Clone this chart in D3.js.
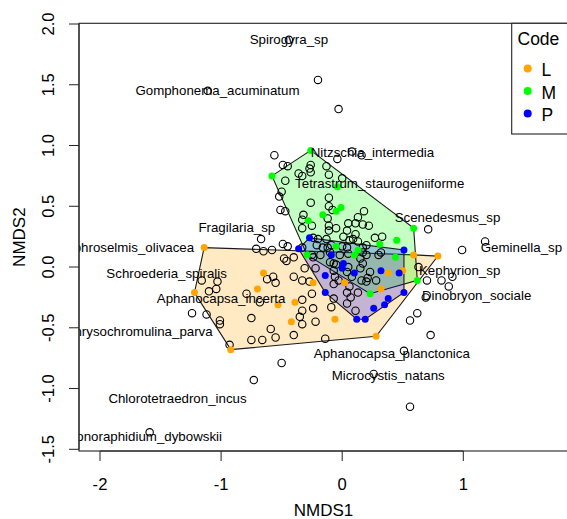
<!DOCTYPE html>
<html><head><meta charset="utf-8">
<script src="https://cdn.jsdelivr.net/npm/d3@7"></script>
<style>
body{margin:0;background:#fff}
svg{display:block}
text{font-family:"Liberation Sans",Arial,Helvetica,sans-serif;fill:#000}
</style>
</head><body>
<svg id="chart" width="567" height="519"></svg>
<script>
// ---- data ----
const siteNMDS1 = [-0.44,-1.11,-0.20,-0.03,-0.56,0.08,0.16,-0.04,-0.49,-0.45,-0.26,-0.27,-0.13,-0.36,-0.33,-0.26,-0.11,0.00,-0.47,-0.50,
 -0.52,-0.26,-0.11,-0.11,-0.08,-0.51,-0.47,0.18,0.13,-0.32,-0.33,-0.12,-0.11,-0.33,-0.25,-0.05,0.05,0.11,0.17,0.22,
 0.04,-0.11,0.71,-0.67,-0.71,-0.65,-0.58,-0.49,-0.45,-0.20,-0.13,-0.09,0.06,0.27,0.33,0.09,0.13,0.00,0.17,-0.24,
 0.01,0.11,-0.21,-0.16,0.20,0.99,1.18,-0.33,-0.25,-0.18,-0.12,-0.02,0.04,0.20,-0.10,0.05,0.17,0.30,0.32,-0.10,
 -0.07,-0.05,0.15,0.17,-0.22,-0.07,0.05,0.04,0.15,0.23,-0.48,-0.46,-0.40,-0.24,-0.31,-0.03,0.08,0.16,0.21,0.28,
 0.20,-0.06,-0.07,0.06,0.13,0.04,-0.40,-0.33,-0.27,-0.25,-0.33,-0.57,-0.62,-0.55,-0.09,-0.07,0.07,0.04,-0.24,0.11,
 -0.33,-0.35,-0.33,-0.22,0.70,0.82,0.88,0.91,0.69,0.62,0.56,0.73,0.56,0.51,0.26,-0.14,-0.40,-0.59,-0.55,-0.66,
 -0.75,-0.75,-0.68,-0.79,-1.16,-1.03,-1.10,-1.04,-1.24,-1.12,-1.01,-1.01,-0.93,-0.50,-0.73,0.63,-1.59];
const siteNMDS2 = [1.87,1.45,1.54,1.30,0.92,0.95,0.92,0.89,0.84,0.83,0.84,0.81,0.83,0.77,0.75,0.78,0.76,0.73,0.71,0.62,
 0.58,0.53,0.57,0.50,0.47,0.47,0.46,0.46,0.41,0.43,0.39,0.40,0.34,0.32,0.34,0.32,0.36,0.36,0.35,0.34,
 0.30,0.30,0.31,0.23,0.15,0.13,0.14,0.19,0.17,0.23,0.23,0.18,0.22,0.24,0.25,0.23,0.21,0.17,0.16,0.24,
 0.25,0.27,0.18,0.16,0.18,0.14,0.21,0.16,0.10,0.10,0.16,0.10,0.16,0.10,0.12,0.11,0.12,0.10,0.12,0.04,
 0.03,0.02,0.07,0.03,-0.01,-0.03,0.00,-0.04,-0.01,-0.04,0.07,0.05,0.08,0.08,-0.01,-0.11,-0.08,-0.11,-0.09,-0.11,
 -0.12,-0.08,-0.14,-0.16,-0.21,-0.21,-0.08,-0.11,-0.12,-0.22,-0.27,-0.08,-0.10,-0.13,-0.33,-0.26,-0.25,-0.30,-0.34,-0.36,
 -0.36,-0.41,-0.47,-0.45,-0.11,-0.11,-0.16,-0.08,-0.25,-0.38,-0.44,-0.56,-1.15,-0.69,-0.88,-0.59,-0.56,-0.51,-0.58,-0.60,
 -0.60,-0.42,-0.29,-0.22,-0.11,-0.12,-0.20,-0.18,-0.38,-0.39,-0.44,-0.47,-0.64,-0.79,-0.93,0.00,-1.36];

const codeLabels = ["L","M","P"];
const codeColors = ["#FFA500","#00FF00","#0000FF"];
const codeL_NMDS1 = [-1.14,-1.22,-0.92,0.28,0.79,0.59,-0.65,-0.70,-0.53,-0.39,-0.42,-0.24,0.02,-0.06,0.32,0.38,0.50];
const codeL_NMDS2 = [0.16,-0.21,-0.68,-0.57,0.09,0.10,-0.05,-0.18,-0.31,-0.29,-0.45,-0.13,-0.13,-0.43,-0.18,-0.05,-0.03];
const codeM_NMDS1 = [-0.26,-0.58,-0.04,-0.01,-0.05,-0.16,-0.28,0.59,0.45,0.31,-0.05,0.13,0.10,-0.29,0.44,0.23,0.62];
const codeM_NMDS2 = [0.96,0.75,0.66,0.49,0.46,0.43,0.38,0.32,0.22,0.19,0.17,0.14,0.10,0.10,0.08,-0.22,-0.11];
const codeP_NMDS1 = [-0.27,-0.36,-0.09,0.01,0.00,0.10,-0.14,-0.14,0.12,0.19,0.26,0.35,0.38,0.51,0.51,0.32,0.47];
const codeP_NMDS2 = [0.24,0.15,0.10,0.03,-0.01,-0.05,-0.07,-0.21,-0.43,-0.43,-0.34,-0.31,-0.26,-0.21,0.14,-0.03,-0.05];

const speciesNames = ["Spirogyra_sp","Gomphonema_acuminatum","Nitzschia_intermedia","Tetrastrum_staurogeniiforme",
 "Scenedesmus_sp","Geminella_sp","Fragilaria_sp","Nephroselmis_olivacea","Schroederia_spiralis","Aphanocapsa_incerta",
 "Chrysochromulina_parva","Chlorotetraedron_incus","Monoraphidium_dybowskii","Aphanocapsa_planctonica",
 "Microcystis_natans","Kephyrion_sp","Dinobryon_sociale"];
const speciesNMDS1 = [-0.44,-1.03,0.25,0.31,0.87,1.48,-0.87,-1.79,-1.45,-1.00,-1.68,-1.36,-1.64,0.41,0.38,0.97,1.11];
const speciesNMDS2 = [1.87,1.45,0.94,0.69,0.41,0.16,0.33,0.16,-0.05,-0.26,-0.53,-1.08,-1.39,-0.71,-0.89,-0.03,-0.23];

const xTicks = [-2,-1,0,1];
const yTicks = [2.0,1.5,1.0,0.5,0.0,-0.5,-1.0,-1.5];
const xTitle = "NMDS1", yTitle = "NMDS2", legendTitle = "Code";

// ---- layout ----
const L = 79, R = 568, T = 23.3, B = 451;
const svg = d3.select("#chart");
const x = d3.scaleLinear().domain([-2.1734, 1.8646]).range([L, R]);
const y = d3.scaleLinear().domain([-1.514, 2.0058]).range([B, T]);

svg.append("defs").append("clipPath").attr("id","plotclip")
  .append("rect").attr("x",L).attr("y",T).attr("width",R-L).attr("height",B-T);
const plot = svg.append("g").attr("clip-path","url(#plotclip)");

// hulls
const groupsX = [codeL_NMDS1, codeM_NMDS1, codeP_NMDS1];
const groupsY = [codeL_NMDS2, codeM_NMDS2, codeP_NMDS2];
groupsX.forEach((gx, gi) => {
  const pts = gx.map((v,i) => [x(v), y(groupsY[gi][i])]);
  const hull = d3.polygonHull(pts);
  plot.append("path")
    .attr("d", "M" + hull.map(p => p.join(",")).join("L") + "Z")
    .attr("fill", codeColors[gi]).attr("fill-opacity", 0.23)
    .attr("stroke", "#1a1a1a").attr("stroke-width", 1.1);
});

// open circles
plot.append("g").selectAll("circle").data(siteNMDS1).join("circle")
  .attr("cx", d => x(d)).attr("cy", (d,i) => y(siteNMDS2[i])).attr("r", 3.7)
  .attr("fill","none").attr("stroke","#000").attr("stroke-width",1.1);

// coloured points
groupsX.forEach((gx, gi) => {
  plot.append("g").selectAll("circle").data(gx).join("circle")
    .attr("cx", d => x(d)).attr("cy", (d,i) => y(groupsY[gi][i])).attr("r", 3.5)
    .attr("fill", codeColors[gi]);
});

// species labels
plot.append("g").selectAll("text").data(speciesNames).join("text")
  .attr("x", (d,i) => x(speciesNMDS1[i])).attr("y", (d,i) => y(speciesNMDS2[i]))
  .attr("dy","0.35em").attr("text-anchor","middle").attr("font-size","13.3px")
  .text(d => d);

// box
svg.append("rect").attr("x",L).attr("y",T).attr("width",R-L).attr("height",B-T)
  .attr("fill","none").attr("stroke","#222").attr("stroke-width",1.1);

// x axis
const ax = svg.append("g");
ax.append("line").attr("x1",x(xTicks[0])).attr("x2",x(xTicks[xTicks.length-1]))
  .attr("y1",B).attr("y2",B).attr("stroke","#222");
xTicks.forEach(t => {
  ax.append("line").attr("x1",x(t)).attr("x2",x(t)).attr("y1",B).attr("y2",B+10).attr("stroke","#222");
  ax.append("text").attr("x",x(t)).attr("y",490).attr("text-anchor","middle")
    .attr("font-size","16.6px").text(String(t));
});
// y axis
const ay = svg.append("g");
ay.append("line").attr("x1",L).attr("x2",L).attr("y1",y(yTicks[0])).attr("y2",y(yTicks[yTicks.length-1])).attr("stroke","#222");
yTicks.forEach(t => {
  ay.append("line").attr("x1",L-10).attr("x2",L).attr("y1",y(t)).attr("y2",y(t)).attr("stroke","#222");
  ay.append("text").attr("transform",`translate(53.5,${y(t)}) rotate(-90)`).attr("text-anchor","middle")
    .attr("font-size","16.6px").text(t.toFixed(1));
});
svg.append("text").attr("x",(L+R)/2).attr("y",516).attr("text-anchor","middle")
  .attr("font-size","17px").text(xTitle);
svg.append("text").attr("transform",`translate(25,${(T+B)/2}) rotate(-90)`).attr("text-anchor","middle")
  .attr("font-size","17px").text(yTitle);

// legend
const lg = svg.append("g");
lg.append("rect").attr("x",511.7).attr("y",T).attr("width",R-511.7).attr("height",134-T)
  .attr("fill","#fff").attr("stroke","#222").attr("stroke-width",1.1);
lg.append("text").attr("x",517.5).attr("y",45).attr("font-size","17.5px").text(legendTitle);
const legendY = [68.5, 91, 113.5];
codeLabels.forEach((c,i) => {
  lg.append("circle").attr("cx",527.7).attr("cy",legendY[i]).attr("r",4).attr("fill",codeColors[i]);
  lg.append("text").attr("x",541.5).attr("y",legendY[i]+7.5).attr("font-size","17.5px").text(c);
});
</script>
</body></html>
